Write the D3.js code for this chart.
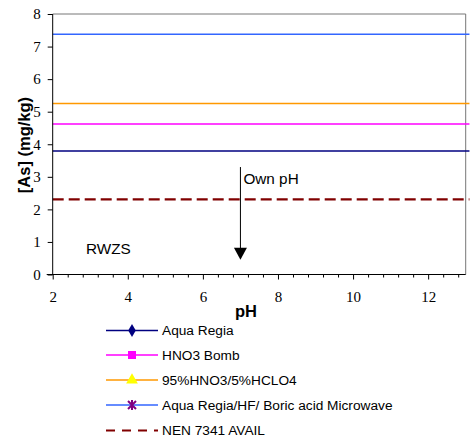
<!DOCTYPE html>
<html><head><meta charset="utf-8">
<script src="https://cdn.jsdelivr.net/npm/d3@7/dist/d3.min.js"></script>
<style>body{margin:0;background:#fff}svg{display:block}</style>
</head><body><svg id="c" width="473" height="442"></svg>
<script>
const seriesNames = ["Aqua Regia","HNO3 Bomb","95%HNO3/5%HCLO4","Aqua Regia/HF/ Boric acid Microwave","NEN 7341 AVAIL"];
const seriesValues = [3.79, 4.62, 5.25, 7.38, 2.31];
const seriesX = [2, 13.1];
const seriesColors = ["#000080","#FF00FF","#FF9900","#3366FF","#800000"];
const markerFill = ["#000080","#FF00FF","#FFFF00","#800080",null];
const markerType = ["diamond","square","triangle","asterisk",null];
const xTicks = [2,4,6,8,10,12];
const yTicks = [0,1,2,3,4,5,6,7,8];
const arrowPH = 7, arrowFrom = 3.3, arrowTo = 0.45;

const svg = d3.select("#c");
const x = d3.scaleLinear().domain([2,13]).range([52.7,465.7]);
const y = d3.scaleLinear().domain([0,8]).range([274.5,14]);
const sans = "'Liberation Sans',Arial,sans-serif";
const serif = "'Liberation Serif','Times New Roman','DejaVu Serif',serif";

// frame top/right
svg.append("path").attr("d",`M${x(2)},${y(8)}H${x(13)}V${y(0)}`).attr("fill","none").attr("stroke","#777").attr("stroke-width",1);

// series lines
seriesValues.forEach((v,i)=>{
  const line = d3.line().x(d=>x(d)).y(()=>y(v));
  const p = svg.append("path").datum(seriesX).attr("d",line).attr("fill","none")
    .attr("stroke",seriesColors[i]).attr("stroke-width", i===4?2.2:1.5);
  if(i===4) p.attr("stroke-dasharray","11,5");
});

// axes
const yAxis = d3.axisLeft(y).tickValues(yTicks).tickSize(5).tickFormat(d3.format("d"));
const gy = svg.append("g").attr("transform",`translate(${x(2)},0)`).call(yAxis);
gy.attr("font-family",serif);
gy.select(".domain").attr("d",`M0,${y(8)}V${y(0)}`).attr("stroke","#000");
gy.selectAll("text").attr("font-family",serif).attr("font-size",15).attr("fill","#000").attr("x",-12);

const minor = d3.range(0,28).map(i=>2+i*0.4).filter(v=>v<=13.0001 && Math.abs(v-Math.round(v/2)*2)>1e-6);
const gxm = svg.append("g").attr("transform",`translate(0,${y(0)})`)
  .call(d3.axisBottom(x).tickValues(minor).tickSize(3).tickFormat(""));
gxm.select(".domain").remove();
const gx = svg.append("g").attr("transform",`translate(0,${y(0)})`)
  .call(d3.axisBottom(x).tickValues(xTicks).tickSize(5).tickFormat(d3.format("d")));
gx.attr("font-family",serif);
gx.select(".domain").attr("d",`M${x(2)-6},0H${x(13)}`).attr("stroke","#000");
gx.selectAll("text").attr("font-family",serif).attr("font-size",15).attr("fill","#000").attr("y",17);

// axis titles
svg.append("text").attr("transform",`translate(30,145) rotate(-90)`).attr("text-anchor","middle")
  .attr("font-family",sans).attr("font-weight","bold").attr("font-size",16.5).text("[As] (mg/kg)");
svg.append("text").attr("x",246).attr("y",316.5).attr("text-anchor","middle")
  .attr("font-family",sans).attr("font-weight","bold").attr("font-size",16.5).text("pH");

// annotations
svg.append("line").attr("x1",x(arrowPH)).attr("x2",x(arrowPH)).attr("y1",y(arrowFrom)).attr("y2",y(arrowTo)-11)
  .attr("stroke","#000").attr("stroke-width",1);
const tip = y(arrowTo);
svg.append("path").attr("d",`M${x(arrowPH)-6.5},${tip-12}L${x(arrowPH)+6.5},${tip-12}L${x(arrowPH)},${tip}Z`).attr("fill","#000");
svg.append("text").attr("x",x(arrowPH)+3).attr("y",184).attr("font-family",sans).attr("font-size",15.3).text("Own pH");
svg.append("text").attr("x",86).attr("y",254).attr("font-family",sans).attr("font-size",15.3).text("RWZS");

// legend
const legY = [330.5,355,380,405,430.5];
const lg = svg.append("g");
seriesNames.forEach((n,i)=>{
  const g = lg.append("g").attr("transform",`translate(0,${legY[i]})`);
  const ln = g.append("line").attr("x1",106).attr("x2",158).attr("y1",0).attr("y2",0)
    .attr("stroke",seriesColors[i]).attr("stroke-width",i===4?2.2:1.5);
  if(i===4) ln.attr("stroke-dasharray","9,7");
  const cx = 132;
  if(markerType[i]==="diamond") g.append("path").attr("d",d3.symbol(d3.symbolDiamond,50)()).attr("transform",`translate(${cx},0)`).attr("fill",markerFill[i]);
  if(markerType[i]==="square") g.append("path").attr("d",d3.symbol(d3.symbolSquare,64)()).attr("transform",`translate(${cx},0)`).attr("fill",markerFill[i]);
  if(markerType[i]==="triangle") g.append("path").attr("d",d3.symbol(d3.symbolTriangle,60)()).attr("transform",`translate(${cx},0)`).attr("fill",markerFill[i]);
  if(markerType[i]==="asterisk") g.append("path").attr("transform",`translate(${cx},0)`).attr("fill","none").attr("stroke",markerFill[i]).attr("stroke-width",2)
    .attr("d",`M-4,-4L4,4M4,-4L-4,4M0,-5V5`);
  g.append("text").attr("x",162).attr("y",0).attr("dy","0.36em").attr("font-family",sans).attr("font-size",13.7).text(n);
});
</script></body></html>
